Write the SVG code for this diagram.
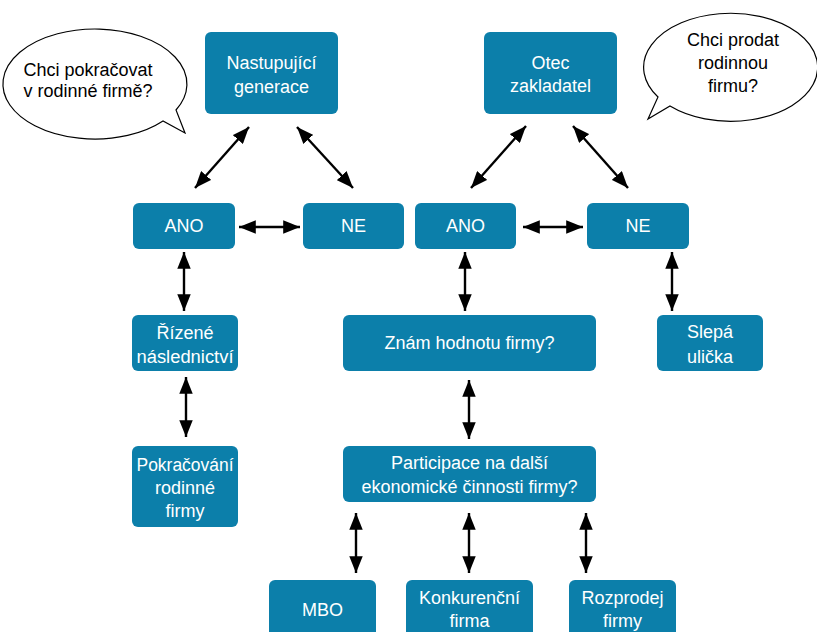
<svg xmlns="http://www.w3.org/2000/svg" width="817" height="632" viewBox="0 0 817 632">
<defs>
<marker id="ah" viewBox="0 0 10 10" refX="10" refY="5" markerWidth="7" markerHeight="5.6" markerUnits="strokeWidth" orient="auto-start-reverse" preserveAspectRatio="none">
<path d="M0,0 L10,5 L0,10 z" fill="#000"/>
</marker>
<style>
.box{fill:#0c7faa;}
.t{font-family:"Liberation Sans",Arial,sans-serif;font-size:18px;fill:#fff;text-anchor:middle;}
.b{font-family:"Liberation Sans",Arial,sans-serif;font-size:18px;fill:#000;text-anchor:middle;}
.bubble{fill:#fff;stroke:#000;stroke-width:1.2;}
.c{stroke:#000;stroke-width:2.4;fill:none;marker-start:url(#ah);marker-end:url(#ah);}
</style>
</defs>
<rect width="817" height="632" fill="#fff"/>

<g id="bubble-left">
<path class="bubble" d="M176,110 A92,55 0 1 0 163,121 L185,133 Z"/>
<text class="b" x="88" y="76">Chci pokračovat</text>
<text class="b" x="88" y="97">v rodinné firmě?</text>
</g>
<g id="bubble-right">
<path class="bubble" d="M670,106 A87,54 0 1 0 658,97 L648,119 Z"/>
<text class="b" x="733" y="46">Chci prodat</text>
<text class="b" x="733" y="69">rodinnou</text>
<text class="b" x="733" y="92">firmu?</text>
</g>

<g id="nastupujici">
<rect class="box" x="205" y="32" width="133" height="82" rx="6"/>
<text class="t" x="271.5" y="69">Nastupující</text>
<text class="t" x="271.5" y="93">generace</text>
</g>
<g id="otec">
<rect class="box" x="484" y="32" width="133" height="82" rx="6"/>
<text class="t" x="550.5" y="69">Otec</text>
<text class="t" x="550.5" y="92">zakladatel</text>
</g>
<g id="ano-left">
<rect class="box" x="133" y="203" width="102" height="46" rx="6"/>
<text class="t" x="184" y="232">ANO</text>
</g>
<g id="ne-left">
<rect class="box" x="303" y="203" width="101" height="46" rx="6"/>
<text class="t" x="353.5" y="232">NE</text>
</g>
<g id="ano-right">
<rect class="box" x="415" y="203" width="101" height="46" rx="6"/>
<text class="t" x="465.5" y="232">ANO</text>
</g>
<g id="ne-right">
<rect class="box" x="587" y="203" width="102" height="46" rx="6"/>
<text class="t" x="638" y="232">NE</text>
</g>
<g id="rizene">
<rect class="box" x="132" y="315" width="106" height="56" rx="6"/>
<text class="t" x="185" y="339">Řízené</text>
<text class="t" x="185" y="363" textLength="97" lengthAdjust="spacingAndGlyphs">následnictví</text>
</g>
<g id="pokracovani">
<rect class="box" x="132" y="446" width="106" height="81" rx="6"/>
<text class="t" x="185" y="471" textLength="97" lengthAdjust="spacingAndGlyphs">Pokračování</text>
<text class="t" x="185" y="494">rodinné</text>
<text class="t" x="185" y="517">firmy</text>
</g>
<g id="znam">
<rect class="box" x="343" y="315" width="253" height="56" rx="6"/>
<text class="t" x="469.5" y="349">Znám hodnotu firmy?</text>
</g>
<g id="participace">
<rect class="box" x="343" y="446" width="253" height="56" rx="6"/>
<text class="t" x="469.5" y="469">Participace na další</text>
<text class="t" x="469.5" y="493">ekonomické činnosti firmy?</text>
</g>
<g id="slepa">
<rect class="box" x="657" y="315" width="106" height="56" rx="6"/>
<text class="t" x="710" y="338">Slepá</text>
<text class="t" x="710" y="363">ulička</text>
</g>
<g id="mbo">
<rect class="box" x="269" y="580" width="107" height="60" rx="6"/>
<text class="t" x="322.5" y="616">MBO</text>
</g>
<g id="konkurencni">
<rect class="box" x="406" y="580" width="127" height="60" rx="6"/>
<text class="t" x="469.5" y="604">Konkurenční</text>
<text class="t" x="469.5" y="627">firma</text>
</g>
<g id="rozprodej">
<rect class="box" x="569" y="580" width="107" height="60" rx="6"/>
<text class="t" x="622.5" y="604">Rozprodej</text>
<text class="t" x="622.5" y="627">firmy</text>
</g>

<g id="connectors">
<line class="c" x1="249" y1="127" x2="195" y2="188"/>
<line class="c" x1="297" y1="127" x2="353" y2="188"/>
<line class="c" x1="239" y1="227" x2="300" y2="227"/>
<line class="c" x1="526" y1="126" x2="471" y2="188"/>
<line class="c" x1="573" y1="126" x2="628" y2="188"/>
<line class="c" x1="523" y1="227" x2="583" y2="227"/>
<line class="c" x1="184" y1="252" x2="184" y2="311"/>
<line class="c" x1="465" y1="252" x2="465" y2="311"/>
<line class="c" x1="672" y1="252" x2="672" y2="311"/>
<line class="c" x1="186" y1="377" x2="186" y2="437"/>
<line class="c" x1="469" y1="380" x2="469" y2="439"/>
<line class="c" x1="356" y1="513" x2="356" y2="573"/>
<line class="c" x1="469" y1="513" x2="469" y2="573"/>
<line class="c" x1="586" y1="513" x2="586" y2="573"/>
</g>
</svg>
